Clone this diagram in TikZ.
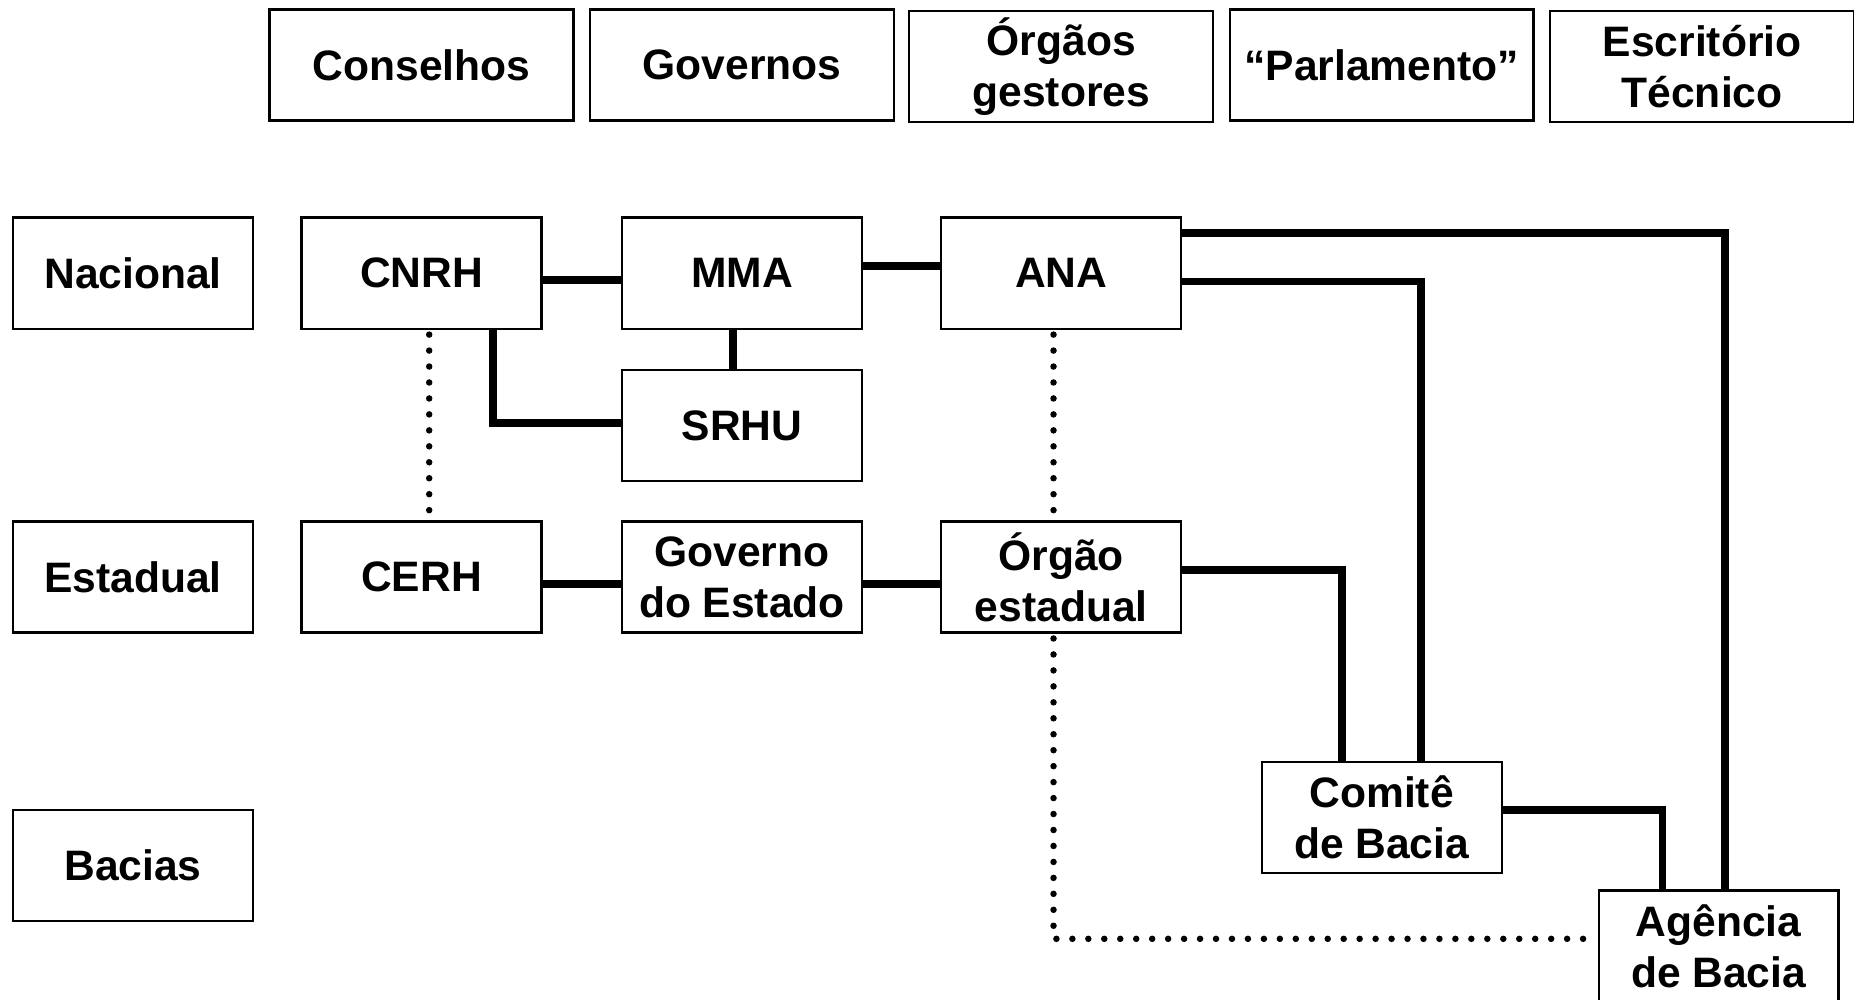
\documentclass[tikz,border=0pt]{standalone}
\usepackage{fontspec}
\setmainfont{Liberation Sans}
\begin{document}
\begin{tikzpicture}[x=0.02cm,y=-0.02cm,
  box/.style={draw, line width=1.1pt, fill=white, minimum width=4.06cm, minimum height=1.88cm, inner sep=0pt, outer sep=0pt, align=center, font=\fontsize{20.5}{24.5}\selectfont\bfseries},
  wide/.style={box, minimum width=5.14cm},
  link/.style={line width=0.13cm},
  dots/.style={line width=0.11cm, line cap=round, dash pattern=on 0pt off 0.27cm}]
\path[use as bounding box, clip] (0,0) rectangle (1568,845);
% header row
\node[wide] (cons) at (356.5,55) {Conselhos};
\node[wide] (gov) at (627.5,55) {Governos};
\node[wide] (org) at (897.5,56) {Órgãos\\gestores};
\node[wide] (parl) at (1168.5,55) {“Parlamento”};
\node[wide] (esc) at (1439.5,56) {Escritório\\Técnico};
% level labels
\node[box] (nac) at (112.5,231) {Nacional};
\node[box] (est) at (112.5,488) {Estadual};
\node[box] (bac) at (112.5,732) {Bacias};
% national
\node[box] (cnrh) at (356.5,231) {CNRH};
\node[box] (mma) at (627.5,231) {MMA};
\node[box] (ana) at (897.5,231) {ANA};
\node[box] (srhu) at (627.5,360) {SRHU};
% state
\node[box] (cerh) at (356.5,488) {CERH};
\node[box] (goves) at (627.5,488) {Governo\\do Estado};
\node[box] (orges) at (897.5,488) {Órgão\\estadual};
% basin
\node[box] (comite) at (1168.5,691.5) {Comitê\\de Bacia};
\node[box] (agencia) at (1453.5,800) {Agência\\de Bacia};
% solid links
\draw[link] (cnrh.east |- 0,237) -- (mma.west |- 0,237);
\draw[link] (mma.east |- 0,225) -- (ana.west |- 0,225);
\draw[link] (mma.south -| 620,0) -- (srhu.north -| 620,0);
\draw[link] (cnrh.south -| 417,0) |- (srhu.west |- 0,358);
\draw[link] (ana.east |- 0,197) -| (agencia.north -| 1459,0);
\draw[link] (ana.east |- 0,238) -| (comite.north -| 1202,0);
\draw[link] (orges.east |- 0,482) -| (comite.north -| 1135,0);
\draw[link] (cerh.east |- 0,494) -- (goves.west |- 0,494);
\draw[link] (goves.east |- 0,494) -- (orges.west |- 0,494);
\draw[link] (comite.east |- 0,685) -| (agencia.north -| 1406,0);
% dotted links
\draw[dots, shorten <=0.1cm] (cnrh.south -| 363,0) -- (cerh.north -| 363,0);
\draw[dots, shorten <=0.1cm] (ana.south -| 891,0) -- (orges.north -| 891,0);
\draw[dots, shorten <=0.1cm, shorten >=0.24cm] (orges.south -| 891,0) |- (agencia.west |- 0,794);
\end{tikzpicture}
\end{document}
